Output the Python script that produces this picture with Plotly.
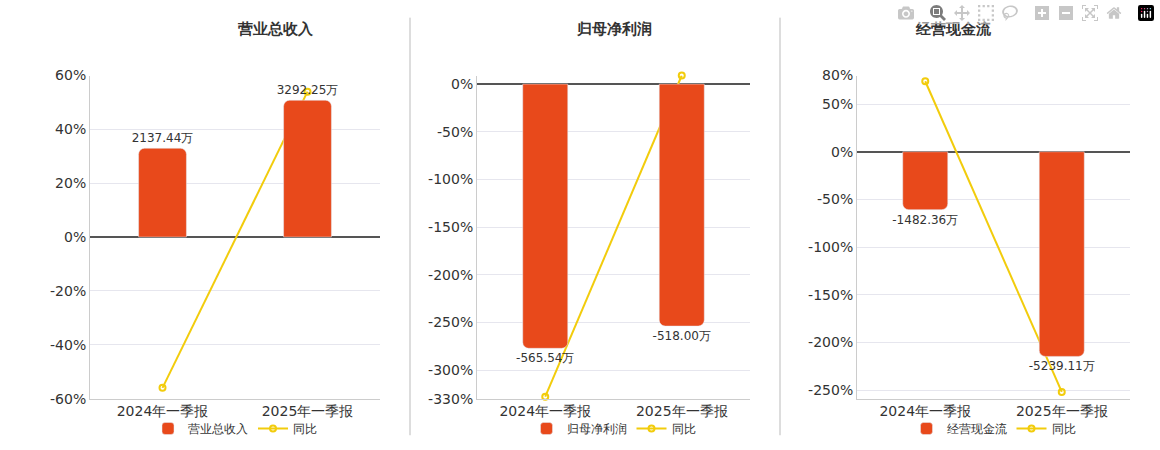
import plotly.graph_objects as go

categories = ["2024年一季报", "2025年一季报"]
titles = ["营业总收入", "归母净利润", "经营现金流"]
bar_values = [[2137.44, 3292.25], [-565.54, -518.00], [-1482.36, -5239.11]]
bar_labels = [["2137.44万", "3292.25万"], ["-565.54万", "-518.00万"], ["-1482.36万", "-5239.11万"]]
yoy = [[-56, 54], [-328, 9], [74, -252]]
pct_ranges = [[-60, 60], [-330, 9], [-259, 80]]
pct_ticks = [[-60, -40, -20, 0, 20, 40, 60],
             [-330, -300, -250, -200, -150, -100, -50, 0],
             [-250, -200, -150, -100, -50, 0, 50, 80]]
scale = [64.8, 2.04, 24.4]

BAR = "#E8491B"
LINE = "#F2CC0C"
xdom = [[90/1160, 380/1160], [477/1160, 750/1160], [857/1160, 1130/1160]]
ydom = [1 - 405/450, 1 - 70/450]

fig = go.Figure()
for i in range(3):
    n = i + 1
    xa = "x" if i == 0 else f"x{2*i+1}"
    ya_pct = "y" if i == 0 else f"y{2*i+1}"
    ya_bar = f"y{2*i+2}"
    lg = "legend" if i == 0 else f"legend{n}"
    fig.add_trace(go.Bar(x=categories, y=bar_values[i], name=titles[i], marker_color=BAR,
                         text=bar_labels[i], textposition="outside", cliponaxis=False,
                         constraintext="none",
                         textfont=dict(size=12, color="#333"), xaxis=xa, yaxis=ya_bar,
                         legend=lg, width=0.33))
    fig.add_trace(go.Scatter(x=categories, y=yoy[i], name="同比", mode="lines+markers",
                             line=dict(color=LINE, width=2),
                             marker=dict(symbol="circle-open", size=6, color=LINE, line=dict(width=2)),
                             xaxis=xa, yaxis=ya_pct, legend=lg, cliponaxis=False))
    xkey = "xaxis" if i == 0 else f"xaxis{2*i+1}"
    ykey = "yaxis" if i == 0 else f"yaxis{2*i+1}"
    ybkey = f"yaxis{2*i+2}"
    r = pct_ranges[i]
    fig.layout[xkey] = dict(domain=xdom[i], anchor=ya_pct,
                            tickfont=dict(size=14, color="#333"), showline=True,
                            linecolor="#ccc", ticks="")
    fig.layout[ykey] = dict(domain=ydom, range=r, tickvals=pct_ticks[i],
                            ticktext=[f"{v}%" for v in pct_ticks[i]],
                            tickfont=dict(size=14, color="#333"), gridcolor="#e6e6ee",
                            zeroline=True, zerolinecolor="#555", zerolinewidth=1.5,
                            anchor=xa, showline=True, linecolor="#ccc")
    fig.layout[ybkey] = dict(domain=ydom, range=[r[0]*scale[i], r[1]*scale[i]],
                             overlaying=ya_pct, visible=False, anchor=xa)
    cx = (xdom[i][0] + xdom[i][1]) / 2
    fig.add_annotation(x=cx, y=1 - 22/450, xref="paper", yref="paper", text=f"<b>{titles[i]}</b>",
                       showarrow=False, yanchor="middle", font=dict(size=15, color="#333"))
    fig.layout[lg] = dict(orientation="h", x=cx, xanchor="center", y=1 - 436/450, yanchor="middle",
                          font=dict(size=12, color="#333"), bgcolor="rgba(0,0,0,0)")

for xp in [410/1160, 780/1160]:
    fig.add_shape(type="line", xref="paper", yref="paper", x0=xp, x1=xp, y0=1-443/450, y1=1-10/450,
                  line=dict(color="#bbb", width=1))

fig.update_layout(width=1160, height=450, margin=dict(l=0, r=0, t=0, b=0),
                  plot_bgcolor="white", paper_bgcolor="white", barcornerradius=6,
                  font=dict(family="DejaVu Sans"))
fig.write_html("out.html", post_script="document.body.style.margin='0';")
